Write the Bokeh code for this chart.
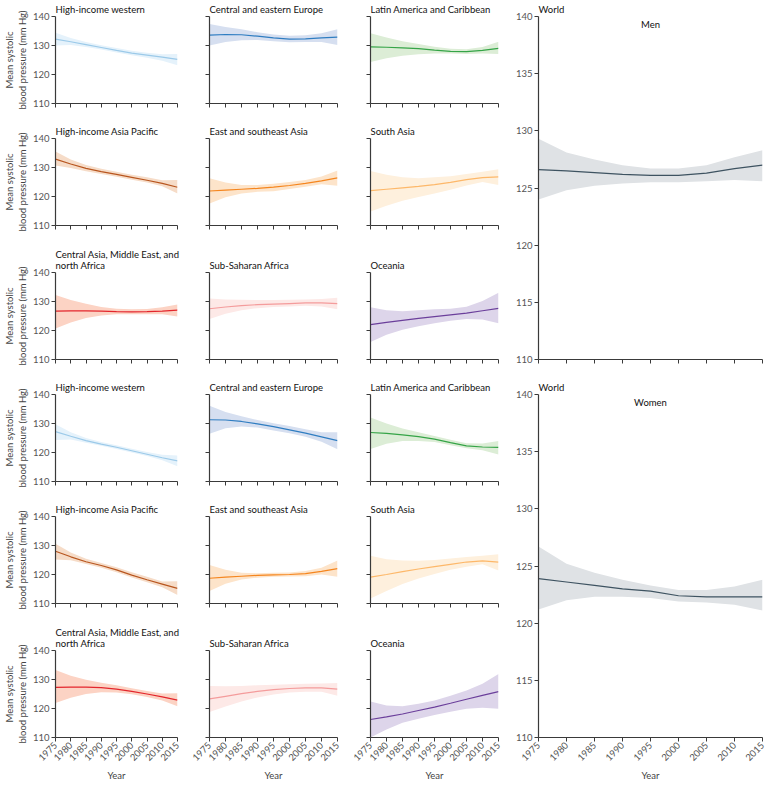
import math
from bokeh.plotting import figure
from bokeh.layouts import row, column
from bokeh.models import Range1d, FixedTicker, Label
from bokeh.embed import file_html
from bokeh.resources import INLINE

# ---------------- data ----------------
years = [1975, 1980, 1985, 1990, 1995, 2000, 2005, 2010, 2015]
x_ticks = [1975, 1980, 1985, 1990, 1995, 2000, 2005, 2010, 2015]
small_y_ticks = [110, 120, 130, 140]
world_y_ticks = [110, 115, 120, 125, 130, 135, 140]

regions = ["High-income western", "Central and eastern Europe", "Latin America and Caribbean",
           "High-income Asia Pacific", "East and southeast Asia", "South Asia",
           "Central Asia, Middle East, and\nnorth Africa", "Sub-Saharan Africa", "Oceania"]

line_colors = ["#9ccae9", "#2f7dc1", "#35a447",
               "#b8561f", "#f5861f", "#fdb86a",
               "#e3262c", "#f49c9c", "#6b3f9b"]
band_colors = ["#e5f2fb", "#d6dff0", "#dcedd6",
               "#f6dcc8", "#fde4ca", "#fef0dd",
               "#fcd3c4", "#fde9e7", "#ddd5ea"]
world_line = "#3e5361"
world_band = "#dfe2e5"

# Men
men_hiw_mean = [132.2, 131.3, 130.3, 129.3, 128.3, 127.4, 126.7, 126.0, 125.2]
men_hiw_low = [130.0, 130.2, 129.5, 128.6, 127.6, 126.6, 125.8, 124.7, 123.2]
men_hiw_up = [134.4, 132.6, 131.2, 130.1, 129.1, 128.2, 127.5, 127.0, 127.1]

men_cee_mean = [133.6, 133.8, 133.7, 133.2, 132.6, 132.2, 132.3, 132.6, 132.9]
men_cee_low = [130.0, 131.2, 131.8, 131.9, 131.5, 131.1, 131.2, 131.2, 130.2]
men_cee_up = [137.4, 136.4, 135.6, 134.6, 133.8, 133.4, 133.5, 134.2, 135.6]

men_lac_mean = [129.5, 129.4, 129.2, 128.9, 128.4, 128.0, 127.9, 128.3, 129.0]
men_lac_low = [124.3, 125.6, 126.5, 127.0, 127.2, 127.2, 127.1, 127.2, 127.1]
men_lac_up = [134.2, 132.8, 131.5, 130.5, 129.6, 128.9, 128.7, 129.5, 131.3]

men_hiap_mean = [132.9, 131.2, 129.7, 128.6, 127.6, 126.6, 125.6, 124.5, 123.2]
men_hiap_low = [130.7, 129.8, 128.7, 127.8, 126.8, 125.8, 124.8, 123.5, 121.0]
men_hiap_up = [135.5, 132.8, 130.9, 129.6, 128.5, 127.5, 126.6, 125.6, 125.7]

men_esea_mean = [121.9, 122.2, 122.5, 122.8, 123.2, 123.8, 124.5, 125.4, 126.4]
men_esea_low = [117.6, 119.7, 121.0, 121.6, 121.8, 122.6, 123.4, 124.2, 123.7]
men_esea_up = [126.3, 124.8, 124.0, 124.0, 124.4, 125.0, 125.7, 126.9, 129.0]

men_sa_mean = [122.0, 122.5, 123.0, 123.5, 124.1, 124.9, 125.8, 126.5, 126.8]
men_sa_low = [114.8, 116.8, 118.5, 119.8, 121.0, 122.3, 123.8, 125.0, 124.0]
men_sa_up = [128.8, 127.5, 126.6, 126.3, 126.6, 127.0, 127.8, 128.5, 129.4]

men_came_mean = [126.7, 126.8, 126.8, 126.7, 126.5, 126.4, 126.5, 126.7, 127.0]
men_came_low = [120.7, 122.8, 124.3, 125.2, 125.6, 125.6, 125.6, 125.6, 124.8]
men_came_up = [132.2, 130.5, 129.2, 128.1, 127.5, 127.3, 127.4, 128.0, 129.0]

men_ssa_mean = [127.5, 128.1, 128.6, 128.9, 129.1, 129.3, 129.5, 129.5, 129.3]
men_ssa_low = [124.0, 125.8, 127.0, 127.7, 128.1, 128.3, 128.5, 128.3, 127.3]
men_ssa_up = [131.0, 130.7, 130.6, 130.5, 130.5, 130.6, 130.7, 130.9, 131.3]

men_oce_mean = [122.0, 122.8, 123.5, 124.2, 124.8, 125.4, 126.0, 126.8, 127.6]
men_oce_low = [116.0, 118.5, 120.3, 121.5, 122.5, 123.4, 124.0, 123.8, 122.5]
men_oce_up = [128.0, 127.0, 126.6, 127.0, 127.3, 127.5, 128.2, 130.2, 133.0]

men_world_mean = [126.6, 126.5, 126.35, 126.2, 126.1, 126.1, 126.3, 126.7, 127.0]
men_world_low = [124.0, 124.8, 125.2, 125.4, 125.5, 125.5, 125.6, 125.7, 125.6]
men_world_up = [129.3, 128.1, 127.5, 127.0, 126.7, 126.7, 127.0, 127.7, 128.3]

# Women
women_hiw_mean = [127.2, 125.6, 124.1, 122.9, 121.8, 120.6, 119.4, 118.2, 117.1]
women_hiw_low = [124.3, 124.5, 123.4, 122.3, 121.2, 120.0, 118.8, 117.3, 115.3]
women_hiw_up = [129.7, 127.0, 125.0, 123.6, 122.5, 121.3, 120.2, 119.2, 119.0]

women_cee_mean = [131.3, 131.2, 130.7, 129.9, 128.9, 127.8, 126.7, 125.4, 124.1]
women_cee_low = [126.5, 128.4, 129.0, 128.6, 127.6, 126.6, 125.4, 123.7, 121.1]
women_cee_up = [136.1, 134.0, 132.5, 131.2, 130.1, 129.1, 128.0, 127.0, 127.0]

women_lac_mean = [126.9, 126.6, 126.1, 125.5, 124.6, 123.4, 122.3, 121.9, 121.8]
women_lac_low = [121.2, 123.0, 124.0, 124.0, 123.6, 122.5, 121.5, 120.8, 119.3]
women_lac_up = [132.1, 130.0, 128.3, 127.0, 125.7, 124.4, 123.2, 123.1, 124.0]

women_hiap_mean = [128.0, 126.1, 124.4, 123.1, 121.6, 119.8, 118.2, 116.7, 115.2]
women_hiap_low = [125.2, 124.9, 123.6, 122.3, 120.8, 119.0, 117.3, 115.6, 112.9]
women_hiap_up = [130.6, 127.6, 125.4, 124.0, 122.5, 120.8, 119.2, 117.6, 117.7]

women_esea_mean = [118.7, 119.1, 119.4, 119.7, 119.9, 120.0, 120.3, 121.1, 122.0]
women_esea_low = [114.3, 116.8, 118.3, 118.9, 119.2, 119.3, 119.4, 120.0, 119.2]
women_esea_up = [123.3, 121.6, 120.6, 120.4, 120.6, 120.7, 121.2, 122.3, 124.8]

women_sa_mean = [119.1, 120.0, 121.0, 121.9, 122.7, 123.5, 124.3, 124.7, 124.3]
women_sa_low = [111.7, 114.3, 116.7, 118.6, 120.2, 121.6, 122.7, 123.5, 121.4]
women_sa_up = [126.5, 125.3, 124.8, 124.7, 125.0, 125.5, 126.0, 126.5, 127.0]

women_came_mean = [127.3, 127.4, 127.4, 127.2, 126.7, 125.9, 125.0, 124.0, 122.9]
women_came_low = [121.9, 123.7, 125.0, 125.6, 125.5, 124.9, 124.0, 122.8, 120.8]
women_came_up = [133.3, 131.3, 129.9, 128.9, 128.0, 127.0, 126.0, 125.2, 125.3]

women_ssa_mean = [123.3, 124.2, 125.1, 125.9, 126.5, 126.9, 127.1, 127.1, 126.7]
women_ssa_low = [118.8, 120.7, 122.4, 123.8, 124.8, 125.5, 125.8, 125.8, 124.4]
women_ssa_up = [127.8, 127.7, 127.8, 128.0, 128.2, 128.4, 128.5, 128.6, 128.8]

women_oce_mean = [116.2, 117.1, 118.1, 119.3, 120.5, 121.8, 123.2, 124.5, 125.8]
women_oce_low = [110.0, 112.8, 115.1, 116.5, 117.8, 118.9, 119.9, 120.3, 119.9]
women_oce_up = [122.4, 121.0, 120.8, 121.6, 122.8, 124.4, 126.2, 128.5, 131.9]

women_world_mean = [123.9, 123.6, 123.3, 123.0, 122.8, 122.4, 122.3, 122.3, 122.3]
women_world_low = [121.2, 122.0, 122.3, 122.3, 122.2, 121.9, 121.8, 121.6, 121.1]
women_world_up = [126.7, 125.2, 124.4, 123.8, 123.3, 122.9, 122.9, 123.2, 123.8]

men_series = [
    (men_hiw_mean, men_hiw_low, men_hiw_up), (men_cee_mean, men_cee_low, men_cee_up),
    (men_lac_mean, men_lac_low, men_lac_up), (men_hiap_mean, men_hiap_low, men_hiap_up),
    (men_esea_mean, men_esea_low, men_esea_up), (men_sa_mean, men_sa_low, men_sa_up),
    (men_came_mean, men_came_low, men_came_up), (men_ssa_mean, men_ssa_low, men_ssa_up),
    (men_oce_mean, men_oce_low, men_oce_up)]
women_series = [
    (women_hiw_mean, women_hiw_low, women_hiw_up), (women_cee_mean, women_cee_low, women_cee_up),
    (women_lac_mean, women_lac_low, women_lac_up), (women_hiap_mean, women_hiap_low, women_hiap_up),
    (women_esea_mean, women_esea_low, women_esea_up), (women_sa_mean, women_sa_low, women_sa_up),
    (women_came_mean, women_came_low, women_came_up), (women_ssa_mean, women_ssa_low, women_ssa_up),
    (women_oce_mean, women_oce_low, women_oce_up)]

# ---------------- styling ----------------
FONT = "Lato"
AXIS_COLOR = "#3a3a3a"
TICK_LABEL_COLOR = "#555555"
TITLE_COLOR = "#111111"

col_frame_w = [122, 128, 128]
col_left = [46, 26, 27]
col_right = [6, 6, 6]
row_borders = [(14, 6), (29, 6), (41, 6), (29, 6), (29, 6), (41, 40)]
FRAME_H = 87
WORLD_FRAME_H = 343
WORLD_FRAME_W = 224


def style_axis(ax, ticks, labelled):
    if labelled:
        ax.ticker = FixedTicker(ticks=ticks, minor_ticks=[])
    else:
        ax.ticker = FixedTicker(ticks=[], minor_ticks=ticks)
    ax.axis_line_color = AXIS_COLOR
    ax.axis_line_width = 1.2
    for pre in ("major", "minor"):
        setattr(ax, pre + "_tick_line_color", AXIS_COLOR)
        setattr(ax, pre + "_tick_line_width", 1)
        setattr(ax, pre + "_tick_in", 0)
        setattr(ax, pre + "_tick_out", 4)
    ax.major_label_text_font = FONT
    ax.major_label_text_color = TICK_LABEL_COLOR
    ax.major_label_text_font_size = "9.5px"
    ax.major_label_standoff = 2
    ax.axis_label_text_font = FONT
    ax.axis_label_text_font_style = "normal"
    ax.axis_label_text_color = "#444444"
    ax.axis_label_text_font_size = "9.5px"
    ax.axis_label_standoff = 3


def style_title(p, text):
    p.title.text = text
    p.title.text_font = FONT
    p.title.text_font_size = "9.5px"
    p.title.text_font_style = "normal"
    p.title.text_color = TITLE_COLOR
    p.title.align = "left"
    p.title.standoff = 3


def base_fig(fw, fh, left, right, top, bottom):
    p = figure(frame_width=fw, frame_height=fh,
               x_range=Range1d(1975, 2015), y_range=Range1d(110, 140),
               output_backend="svg", toolbar_location=None,
               min_border_left=left, min_border_right=right,
               min_border_top=top, min_border_bottom=bottom)
    p.outline_line_color = None
    p.grid.visible = False
    return p


def small_panel(title, series, lc, bc, col, r):
    top, bottom = row_borders[r]
    p = base_fig(col_frame_w[col], FRAME_H, col_left[col], col_right[col], top, bottom)
    mean, low, up = series
    p.varea(x=years, y1=low, y2=up, fill_color=bc, fill_alpha=1)
    p.line(x=years, y=mean, line_color=lc, line_width=1.2)
    style_title(p, title)
    style_axis(p.xaxis[0], x_ticks, r == 5)
    style_axis(p.yaxis[0], small_y_ticks, col == 0)
    if r == 5:
        p.xaxis.major_label_orientation = math.pi / 4
        p.xaxis.axis_label = "Year"
    if col == 0:
        p.yaxis.axis_label = "Mean systolic\nblood pressure (mm Hg)"
        p.yaxis.axis_label_standoff = 2
    return p


def world_panel(sex_label, series, top, bottom, show_x):
    p = base_fig(WORLD_FRAME_W, WORLD_FRAME_H, 34, 5, top, bottom)
    mean, low, up = series
    p.varea(x=years, y1=low, y2=up, fill_color=world_band, fill_alpha=1)
    p.line(x=years, y=mean, line_color=world_line, line_width=1.2)
    style_title(p, "World")
    p.add_layout(Label(x=1995, y=140, text=sex_label, text_align="center", text_baseline="top",
                       y_offset=-2, text_font=FONT, text_font_size="9.5px", text_color=TITLE_COLOR))
    style_axis(p.xaxis[0], x_ticks, show_x)
    style_axis(p.yaxis[0], world_y_ticks, True)
    if show_x:
        p.xaxis.major_label_orientation = math.pi / 4
        p.xaxis.axis_label = "Year"
    return p


rows = []
for sex_i, series_list in enumerate([men_series, women_series]):
    for rr in range(3):
        r = sex_i * 3 + rr
        figs = []
        for c in range(3):
            k = rr * 3 + c
            figs.append(small_panel(regions[k], series_list[k], line_colors[k], band_colors[k], c, r))
        rows.append(row(*figs, spacing=0))

left = column(*rows, spacing=0)
right = column(world_panel("Men", (men_world_mean, men_world_low, men_world_up), 14, 6, False),
               world_panel("Women", (women_world_mean, women_world_low, women_world_up), 29, 40, True),
               spacing=0)
layout = row(left, right, spacing=0)

open("out.html", "w").write(file_html(layout, INLINE))
